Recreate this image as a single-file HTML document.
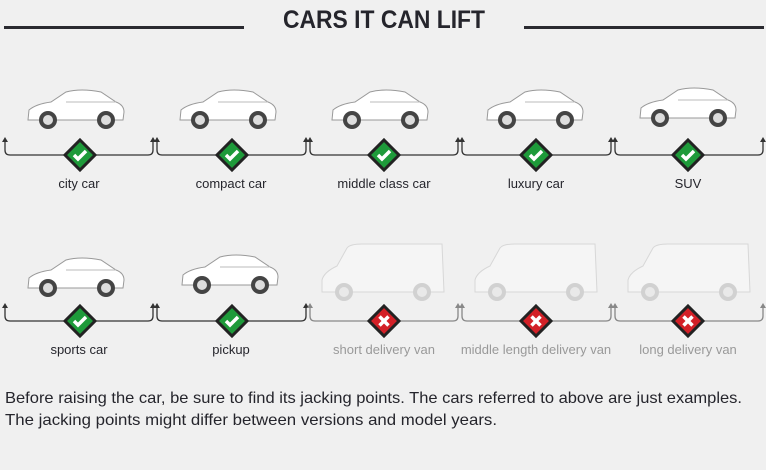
<!DOCTYPE html>
<html><head><meta charset="utf-8"><style>
html,body{margin:0;padding:0;background:#f0f0f0}
svg{display:block}
</style></head><body>
<svg width="766" height="470" viewBox="0 0 766 470" xmlns="http://www.w3.org/2000/svg" font-family="Liberation Sans, sans-serif">
<rect width="766" height="470" fill="#f0f0f0"/>
<rect x="4" y="26" width="240" height="3" fill="#2a2a30"/>
<rect x="524" y="26" width="240" height="3" fill="#2a2a30"/>
<text x="384" y="28" text-anchor="middle" font-size="25" font-weight="bold" fill="#25252c" textLength="202" lengthAdjust="spacingAndGlyphs">CARS IT CAN LIFT</text>
<defs>
<g id="car">
<path d="M-48,8 L-47,-2 Q-40,-8 -25,-10 L-10,-20 Q5,-24 25,-20 L40,-10 Q48,-7 48,0 L47,8 Z" fill="#fff" stroke="#999" stroke-width="1"/>
<line x1="-10" y1="-10" x2="40" y2="-10" stroke="#bbb"/>
<circle cx="-28" cy="8" r="9" fill="#444"/><circle cx="-28" cy="8" r="5" fill="#ddd"/>
<circle cx="30" cy="8" r="9" fill="#444"/><circle cx="30" cy="8" r="5" fill="#ddd"/>
</g>
<g id="van" opacity="0.35">
<path d="M-60,14 L-60,2 Q-58,-6 -45,-12 L-35,-30 Q-32,-34 -20,-34 L60,-34 L62,14 Z" fill="#fff" stroke="#aaa" stroke-width="1"/>
<circle cx="-38" cy="14" r="9" fill="#999"/><circle cx="-38" cy="14" r="5" fill="#ddd"/>
<circle cx="40" cy="14" r="9" fill="#999"/><circle cx="40" cy="14" r="5" fill="#ddd"/>
</g>
<g id="ok"><path d="M0,-15 L15,0 L0,15 L-15,0 Z" fill="#1e9a3a" stroke="#222" stroke-width="3"/><path d="M-6,0 L-2,4 L6,-4" fill="none" stroke="#fff" stroke-width="3.5"/></g>
<g id="no"><path d="M0,-15 L15,0 L0,15 L-15,0 Z" fill="#d32027" stroke="#222" stroke-width="3"/><path d="M-4.5,-4.5 L4.5,4.5 M4.5,-4.5 L-4.5,4.5" stroke="#fff" stroke-width="3.5"/></g>
</defs>
<g fill="none" stroke-width="1.3">
<g stroke="#333">
<path d="M5,140 V150 Q5,155 10,155 H148 Q153,155 153,150 V140"/>
<path d="M157,140 V150 Q157,155 162,155 H301 Q306,155 306,150 V140"/>
<path d="M310,140 V150 Q310,155 315,155 H453 Q458,155 458,150 V140"/>
<path d="M462,140 V150 Q462,155 467,155 H606 Q611,155 611,150 V140"/>
<path d="M615,140 V150 Q615,155 620,155 H758 Q763,155 763,150 V140"/>
<path d="M5,306 V316 Q5,321 10,321 H148 Q153,321 153,316 V306"/>
<path d="M157,306 V316 Q157,321 162,321 H301 Q306,321 306,316 V306"/>
</g>
<g stroke="#888">
<path d="M310,306 V316 Q310,321 315,321 H453 Q458,321 458,316 V306"/>
<path d="M462,306 V316 Q462,321 467,321 H606 Q611,321 611,316 V306"/>
<path d="M615,306 V316 Q615,321 620,321 H758 Q763,321 763,316 V306"/>
</g>
</g>
<g fill="#333">
<path d="M5,137 l-3,5 h6z M153,137 l-3,5 h6z M157,137 l-3,5 h6z M306,137 l-3,5 h6z M310,137 l-3,5 h6z M458,137 l-3,5 h6z M462,137 l-3,5 h6z M611,137 l-3,5 h6z M615,137 l-3,5 h6z M763,137 l-3,5 h6z"/>
<path d="M5,303 l-3,5 h6z M153,303 l-3,5 h6z M157,303 l-3,5 h6z M306,303 l-3,5 h6z"/>
</g>
<g fill="#888"><path d="M310,303 l-3,5 h6z M458,303 l-3,5 h6z M462,303 l-3,5 h6z M611,303 l-3,5 h6z M615,303 l-3,5 h6z M763,303 l-3,5 h6z"/></g>
<use href="#car" x="76" y="112"/><use href="#car" x="228" y="112"/><use href="#car" x="380" y="112"/><use href="#car" x="535" y="112"/><use href="#car" x="688" y="110"/>
<use href="#car" x="76" y="280"/><use href="#car" x="230" y="277"/>
<use href="#van" x="382" y="278"/><use href="#van" x="535" y="278"/><use href="#van" x="688" y="278"/>
<use href="#ok" x="80" y="155"/><use href="#ok" x="232" y="155"/><use href="#ok" x="384" y="155"/><use href="#ok" x="536" y="155"/><use href="#ok" x="688" y="155"/>
<use href="#ok" x="80" y="321"/><use href="#ok" x="232" y="321"/>
<use href="#no" x="384" y="321"/><use href="#no" x="536" y="321"/><use href="#no" x="688" y="321"/>
<g font-size="13" text-anchor="middle" fill="#25252c">
<text x="79" y="188">city car</text><text x="231" y="188">compact car</text><text x="384" y="188">middle class car</text><text x="536" y="188">luxury car</text><text x="688" y="188">SUV</text>
<text x="79" y="354">sports car</text><text x="231" y="354">pickup</text>
</g>
<g font-size="13" text-anchor="middle" fill="#999">
<text x="384" y="354">short delivery van</text><text x="536" y="354">middle length delivery van</text><text x="688" y="354">long delivery van</text>
</g>
<g font-size="16" fill="#25252c">
<text x="5" y="403" textLength="737" lengthAdjust="spacingAndGlyphs">Before raising the car, be sure to find its jacking points. The cars referred to above are just examples.</text>
<text x="5" y="425" textLength="492" lengthAdjust="spacingAndGlyphs">The jacking points might differ between versions and model years.</text>
</g>
</svg>
</body></html>
